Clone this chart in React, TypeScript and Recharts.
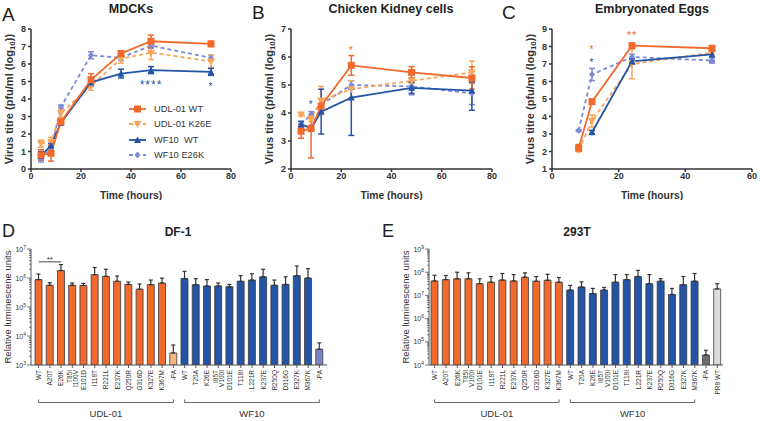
import React from 'react';
import {
  LineChart, Line, XAxis, YAxis, ErrorBar, ReferenceDot, ReferenceLine, Legend,
  BarChart, Bar, Cell,
} from 'recharts';

const FONT = '"Liberation Sans", Arial, Helvetica, sans-serif';
const INK = '#333333';
const ORANGE = '#f26a2b';
const ORANGE_LT = '#f9a65c';
const BLUE = '#2354a5';
const BLUE_LT = '#7d8ad6';

type Err = number | [number, number] | null;

// ---- A: MDCKs ----
const mdckHours = [4, 8, 12, 24, 36, 48, 72];
const mdckUdlWt = [0.8, 0.9, 2.7, 5.1, 6.6, 7.3, 7.15];
const mdckUdlWtErr: Err[] = [0.3, 0.45, 0.15, 0.35, 0.15, 0.35, 0.15];
const mdckUdlK26E = [1.45, 1.55, 3.2, 4.75, 6.3, 6.65, 6.15];
const mdckUdlK26EErr: Err[] = [0.2, 0.25, 0.25, 0.25, 0.25, 0.4, 0.35];
const mdckWfWt = [0.75, 1.35, 2.65, 4.95, 5.45, 5.65, 5.55];
const mdckWfWtErr: Err[] = [0.25, 0.1, 0.1, 0.2, 0.25, 0.2, 0.2];
const mdckWfE26K = [0.6, 1.15, 3.55, 6.5, 6.35, 7.05, 6.35];
const mdckWfE26KErr: Err[] = [0.2, 0.15, 0.1, 0.2, 0.15, 0.15, 0.15];
const mdckXTicks = [0, 20, 40, 60, 80];
const mdckYTicks = [0, 1, 2, 3, 4, 5, 6, 7, 8];

// ---- B: chicken kidney cells ----
const ckHours = [4, 8, 12, 24, 48, 72];
const ckUdlWt = [3.35, 3.45, 4.25, 5.7, 5.45, 5.25];
const ckUdlWtErr: Err[] = [0.25, [1.05, 0.35], 0.25, 0.35, 0.2, 0.4];
const ckUdlK26E = [3.95, 3.8, 4.45, 4.85, 5.15, 5.45];
const ckUdlK26EErr: Err[] = [0.05, 0.1, 0.5, 0.3, 0.1, 0.4];
const ckWfWt = [3.6, 3.45, 4.05, 4.55, 4.9, 4.8];
const ckWfWtErr: Err[] = [0.1, 0.1, 0.8, [1.35, 0.3], 0.2, [0.7, 0.3]];
const ckWfE26K = [3.6, 3.95, 4.3, 5.0, 4.95, 4.7];
const ckWfE26KErr: Err[] = [0.1, 0.1, 0.2, 0.15, 0.3, 0.4];
const ckXTicks = [0, 20, 40, 60, 80];
const ckYTicks = [2, 3, 4, 5, 6, 7];

// ---- C: embryonated eggs ----
const eggHours = [8, 12, 24, 48];
const eggUdlWt = [2.2, 4.85, 8.05, 7.9];
const eggUdlWtErr: Err[] = [0.2, 0.1, 0.1, 0.1];
const eggUdlK26E = [2.1, 3.75, 7.0, 7.65];
const eggUdlK26EErr: Err[] = [0.1, 0.35, 0.85, 0.1];
const eggWfWt = [null, 3.1, 7.15, 7.55];
const eggWfWtErr: Err[] = [null, 0.1, 0.15, 0.4];
const eggWfE26K = [3.2, 6.4, 7.4, 7.2];
const eggWfE26KErr: Err[] = [0.05, 0.35, 0.15, 0.15];
const eggXTicks = [0, 20, 40, 60];
const eggYTicks = [1, 2, 3, 4, 5, 6, 7, 8, 9];

// ---- D / E: polymerase activity ----
const udlNames = ['WT', 'A20T', 'E26K', 'T85I\nI100V', 'E101D', 'I118T', 'R221L', 'E237K', 'Q250R', 'G316D', 'K327E', 'K367M'];
const udlNames293 = ['WT', 'A20T', 'E26K', 'T85I\nV100I', 'D101E', 'I118T', 'R221L', 'E237K', 'Q250R', 'G316D', 'K327E', 'K367M'];
const wfNames = ['WT', 'T20A', 'K26E', 'I85T\nV100I', 'D101E', 'T118I', 'L221R', 'K237E', 'R250Q', 'D316G', 'E327K', 'M367K'];

const df1Udl = [8.8e5, 5.6e5, 1.8e6, 5.6e5, 5.5e5, 1.3e6, 1.14e6, 7.7e5, 6.0e5, 4.1e5, 5.9e5, 6.7e5];
const df1UdlHi = [1.37e6, 6.9e5, 2.9e6, 6.7e5, 6.5e5, 2.3e6, 2.0e6, 1.17e6, 7.3e5, 6.2e5, 8.5e5, 9.9e5];
const df1Wf = [9.5e5, 5.9e5, 5.3e5, 5.3e5, 5.0e5, 7.7e5, 8.5e5, 1.1e6, 5.6e5, 6.0e5, 1.2e6, 1.0e6];
const df1WfHi = [1.7e6, 9.5e5, 8.8e5, 6.7e5, 6.0e5, 1.2e6, 1.4e6, 2.0e6, 8.5e5, 1.1e6, 2.6e6, 2.1e6];
const df1UdlNoPa = [2.6e3];
const df1UdlNoPaHi = [4.9e3];
const df1WfNoPa = [3.5e3];
const df1WfNoPaHi = [5.8e3];
const df1Decades = [3, 4, 5, 6, 7];

const t293Udl = [4.2e7, 4.8e7, 5.2e7, 5.2e7, 3.2e7, 3.7e7, 4.6e7, 4.2e7, 6.1e7, 4.1e7, 4.5e7, 3.7e7];
const t293UdlHi = [7.4e7, 7.2e7, 1.0e8, 9.4e7, 5.2e7, 6.5e7, 8.8e7, 7.9e7, 9.4e7, 6.5e7, 8.2e7, 5.9e7];
const t293Wf = [1.7e7, 2.3e7, 1.2e7, 1.7e7, 3.7e7, 4.8e7, 6.5e7, 3.2e7, 4.1e7, 1.1e7, 2.9e7, 4.1e7];
const t293WfHi = [2.7e7, 3.8e7, 2.0e7, 2.2e7, 7.9e7, 7.9e7, 1.2e8, 7.9e7, 5.3e7, 2.0e7, 6.5e7, 8.8e7];
const t293NoPa = [2.7e4];
const t293NoPaHi = [4.3e4];
const t293Pr8 = [1.9e7];
const t293Pr8Hi = [3.2e7];
const t293Decades = [4, 5, 6, 7, 8, 9];

// ---------------------------------------------------------------

type Shape = 'square' | 'down' | 'up' | 'diamond';
const SERIES: { key: string; name: string; color: string; dashed: boolean; shape: Shape }[] = [
  { key: 'udlWt', name: 'UDL-01 WT', color: ORANGE, dashed: false, shape: 'square' },
  { key: 'udlK26E', name: 'UDL-01 K26E', color: ORANGE_LT, dashed: true, shape: 'down' },
  { key: 'wfWt', name: 'WF10  WT', color: BLUE, dashed: false, shape: 'up' },
  { key: 'wfE26K', name: 'WF10 E26K', color: BLUE_LT, dashed: true, shape: 'diamond' },
];
const DRAW_ORDER = [3, 1, 2, 0];

function buildRows(hours: number[], cols: [string, (number | null)[], Err[]][]) {
  return hours.map((h, i) => {
    const row: Record<string, any> = { h };
    cols.forEach(([key, vals, errs]) => {
      row[key] = vals[i];
      row[key + 'Err'] = errs[i];
    });
    return row;
  });
}

const mdckRows = buildRows(mdckHours, [
  ['udlWt', mdckUdlWt, mdckUdlWtErr], ['udlK26E', mdckUdlK26E, mdckUdlK26EErr],
  ['wfWt', mdckWfWt, mdckWfWtErr], ['wfE26K', mdckWfE26K, mdckWfE26KErr],
]);
const ckRows = buildRows(ckHours, [
  ['udlWt', ckUdlWt, ckUdlWtErr], ['udlK26E', ckUdlK26E, ckUdlK26EErr],
  ['wfWt', ckWfWt, ckWfWtErr], ['wfE26K', ckWfE26K, ckWfE26KErr],
]);
const eggRows = buildRows(eggHours, [
  ['udlWt', eggUdlWt, eggUdlWtErr], ['udlK26E', eggUdlK26E, eggUdlK26EErr],
  ['wfWt', eggWfWt, eggWfWtErr], ['wfE26K', eggWfE26K, eggWfE26KErr],
]);

function Marker({ cx, cy, shape, color }: { cx: number; cy: number; shape: Shape; color: string }) {
  if (cx == null || cy == null || isNaN(cx) || isNaN(cy)) return <g />;
  if (shape === 'square') return <rect x={cx - 3.5} y={cy - 3.5} width={7} height={7} fill={color} />;
  if (shape === 'down') return <polygon points={`${cx - 4},${cy - 3} ${cx + 4},${cy - 3} ${cx},${cy + 4}`} fill={color} />;
  if (shape === 'up') return <polygon points={`${cx - 3.5},${cy + 3} ${cx + 3.5},${cy + 3} ${cx},${cy - 3.5}`} fill={color} />;
  return <polygon points={`${cx},${cy - 3.5} ${cx + 3},${cy} ${cx},${cy + 3.5} ${cx - 3},${cy}`} fill={color} />;
}

const AXIS_TICK = { fill: INK, fontSize: 9, fontWeight: 700, fontFamily: FONT };

const titreYLabel = (props: any) => {
  const vb = props.viewBox;
  const cx = vb.x + 9;
  const cy = vb.y + vb.height / 2;
  return (
    <text x={cx} y={cy} transform={`rotate(-90 ${cx} ${cy})`} textAnchor="middle" dominantBaseline="central"
      fontFamily={FONT} fontWeight={700} fontSize={11} fill={INK}>
      Virus titre (pfu/ml (log<tspan fontSize={8} dy={2.5}>10</tspan><tspan dy={-2.5}>))</tspan>
    </text>
  );
};

const titreLegend = () => (
  <div style={{ fontFamily: FONT, fontSize: 9.3, color: INK }}>
    {SERIES.map((s) => (
      <div key={s.key} style={{ display: 'flex', alignItems: 'center', height: 15.5 }}>
        <svg width={20} height={10}>
          <line x1={1} x2={18} y1={5} y2={5} stroke={s.color} strokeWidth={1.8} strokeDasharray={s.dashed ? '4 3' : undefined} />
          <Marker cx={9.5} cy={5} shape={s.shape} color={s.color} />
        </svg>
        <span style={{ marginLeft: 6, whiteSpace: 'pre' }}>{s.name}</span>
      </div>
    ))}
  </div>
);

type Star = { x: number; y: number; text: string; color: string; size: number };

function TitrePanel({ left, width, plotWidth, rows, xDomain, xTicks, yDomain, yTicks, stars, legend }: any) {
  return (
    <div style={{ position: 'absolute', left, top: 0 }}>
      <LineChart width={width} height={200} data={rows}
        margin={{ top: 29, right: width - 31 - plotWidth, bottom: 0, left: 0 }}>
        <XAxis dataKey="h" type="number" domain={xDomain} ticks={xTicks} allowDataOverflow height={31}
          tick={AXIS_TICK} tickSize={3} tickMargin={1}
          axisLine={{ stroke: INK, strokeWidth: 1.5 }} tickLine={{ stroke: INK, strokeWidth: 1.5 }}
          label={{ value: 'Time (hours)', position: 'insideBottom', offset: 1, fill: INK, fontSize: 10.3, fontWeight: 700, fontFamily: FONT }} />
        <YAxis type="number" domain={yDomain} ticks={yTicks} allowDataOverflow width={31}
          tick={AXIS_TICK} tickSize={3} tickMargin={2}
          axisLine={{ stroke: INK, strokeWidth: 1.5 }} tickLine={{ stroke: INK, strokeWidth: 1.5 }}
          label={titreYLabel} />
        {DRAW_ORDER.map((i) => {
          const s = SERIES[i];
          return (
            <Line key={s.key} type="linear" dataKey={s.key} name={s.name} stroke={s.color} strokeWidth={1.8}
              strokeDasharray={s.dashed ? '4 3' : undefined} isAnimationActive={false} activeDot={false}
              dot={(p: any) => <Marker key={`${s.key}-${p.index}`} cx={p.cx} cy={p.cy} shape={s.shape} color={s.color} />}>
              <ErrorBar dataKey={s.key + 'Err'} width={3} stroke={s.color} strokeWidth={1.5} direction="y" />
            </Line>
          );
        })}
        {(stars as Star[]).map((st, i) => (
          <ReferenceDot key={i} x={st.x} y={st.y} r={0} ifOverflow="visible"
            label={{ value: st.text, position: 'center', fill: st.color, fontSize: st.size, fontFamily: FONT, letterSpacing: 1 }} />
        ))}
        {legend && (
          <Legend layout="vertical" align="center" verticalAlign="middle" content={titreLegend}
            wrapperStyle={{ left: 128, top: 101, width: 110, height: 64 }} />
        )}
      </LineChart>
    </div>
  );
}

// ---- bar panels ----
type LuxRow = { id: string; label: string; value: number; err: [number, number]; fill: string; group: string };

function luxGroup(prefix: string, names: string[], values: number[], highs: number[], fill: string, group: string): LuxRow[] {
  return names.map((n, i) => ({
    id: `${prefix}-${i}`, label: n, value: values[i], err: [0, highs[i] - values[i]], fill, group,
  }));
}

const df1Rows: LuxRow[] = [
  ...luxGroup('udl', udlNames, df1Udl, df1UdlHi, ORANGE, 'UDL-01'),
  ...luxGroup('udlpa', ['-PA'], df1UdlNoPa, df1UdlNoPaHi, '#f9b884', 'UDL-01'),
  ...luxGroup('wf', wfNames, df1Wf, df1WfHi, BLUE, 'WF10'),
  ...luxGroup('wfpa', ['-PA'], df1WfNoPa, df1WfNoPaHi, '#7d84c9', 'WF10'),
];

const t293Rows: LuxRow[] = [
  ...luxGroup('udl', udlNames293, t293Udl, t293UdlHi, ORANGE, 'UDL-01'),
  ...luxGroup('wf', wfNames, t293Wf, t293WfHi, BLUE, 'WF10'),
  ...luxGroup('pa', ['-PA'], t293NoPa, t293NoPaHi, '#6d6e71', ''),
  ...luxGroup('pr8', ['PR8 WT'], t293Pr8, t293Pr8Hi, '#dcdcdc', ''),
];

function logTicks(decades: number[]) {
  const out: number[] = [];
  decades.forEach((d, i) => {
    if (i === decades.length - 1) { out.push(10 ** d); return; }
    for (let k = 1; k < 10; k++) out.push(k * 10 ** d);
  });
  return out;
}

const LogTick = (props: any) => {
  const { x, y, payload } = props;
  const exp = Math.log10(payload.value);
  const major = Math.abs(exp - Math.round(exp)) < 1e-6;
  return (
    <g>
      <line x1={x - (major ? 4 : 2)} x2={x} y1={y} y2={y} stroke="#555" strokeWidth={0.8} />
      {major && (
        <text x={x - 5} y={y + 2.5} textAnchor="end" fontFamily={FONT} fontSize={7} fill={INK}>
          10<tspan dy={-3} fontSize={5}>{Math.round(exp)}</tspan>
        </text>
      )}
    </g>
  );
};

const luxYLabel = (props: any) => {
  const vb = props.viewBox;
  const cx = vb.x + 7;
  const cy = vb.y + vb.height / 2;
  return (
    <text x={cx} y={cy} transform={`rotate(-90 ${cx} ${cy})`} textAnchor="middle" dominantBaseline="central"
      fontFamily={FONT} fontSize={9.5} fill={INK}>Relative luminescene units</text>
  );
};

function CategoryTick({ x, y, payload, rows, band }: any) {
  const list = rows as LuxRow[];
  const row = list.find((r) => r.id === payload.value);
  if (!row) return <g />;
  const lines = row.label.split('\n');
  const members = row.group ? list.filter((r) => r.group === row.group) : [];
  const first = members.length > 0 && members[0].id === row.id;
  const last = members.length > 0 && members[members.length - 1].id === row.id;
  const by = y + 32.5;
  return (
    <g>
      <text transform={`translate(${x},${y}) rotate(-90)`} textAnchor="end" fontFamily={FONT} fontSize={6.5} fill={INK}>
        {lines.map((l: string, i: number) => (
          <tspan key={i} x={0} y={(i - (lines.length - 1) / 2) * 6.2 + 2.3}>{l}</tspan>
        ))}
      </text>
      {row.group && (
        <line x1={first ? x : x - band / 2} x2={last ? x : x + band / 2} y1={by} y2={by} stroke="#666" strokeWidth={1} />
      )}
      {first && <line x1={x} x2={x} y1={by} y2={by - 3} stroke="#666" strokeWidth={1} />}
      {last && <line x1={x} x2={x} y1={by} y2={by - 3} stroke="#666" strokeWidth={1} />}
      {first && (
        <text x={x + ((members.length - 1) / 2) * band} y={by + 14} textAnchor="middle" fontFamily={FONT} fontSize={9.5} fill={INK}>
          {row.group}
        </text>
      )}
    </g>
  );
}

function LuxPanel({ left, width, plotWidth, rows, decades, band, padding, children }: any) {
  const ticks = logTicks(decades);
  return (
    <div style={{ position: 'absolute', left, top: 200 }}>
      <BarChart width={width} height={221} data={rows} barSize={7}
        margin={{ top: 49, right: width - 31 - plotWidth, bottom: 0, left: 0 }}>
        <XAxis dataKey="id" type="category" interval={0} height={56} padding={padding}
          tick={(p: any) => <CategoryTick {...p} rows={rows} band={band} />}
          tickSize={3} tickMargin={2} axisLine={{ stroke: '#555', strokeWidth: 1 }} tickLine={{ stroke: '#555' }} />
        <YAxis type="number" scale="log" domain={[10 ** decades[0], 10 ** decades[decades.length - 1]]}
          allowDataOverflow ticks={ticks} interval={0} width={31} tickSize={0} tickMargin={0} tick={LogTick}
          axisLine={{ stroke: '#555', strokeWidth: 1 }} label={luxYLabel} />
        <Bar dataKey="value" isAnimationActive={false} stroke="#3a3a3a" strokeWidth={0.8}>
          {(rows as LuxRow[]).map((r) => <Cell key={r.id} fill={r.fill} />)}
          <ErrorBar dataKey="err" width={2} stroke="#333" strokeWidth={1.2} direction="y" />
        </Bar>
        {children}
      </BarChart>
    </div>
  );
}

const mdckStars: Star[] = [
  { x: 48, y: 4.83, text: '****', color: BLUE, size: 12 },
  { x: 72, y: 4.7, text: '*', color: BLUE, size: 10 },
];
const ckStars: Star[] = [
  { x: 8, y: 4.32, text: '*', color: BLUE, size: 10 },
  { x: 24, y: 6.24, text: '*', color: ORANGE, size: 10 },
];
const eggStars: Star[] = [
  { x: 12, y: 7.86, text: '*', color: ORANGE, size: 10 },
  { x: 12, y: 7.11, text: '*', color: BLUE, size: 10 },
  { x: 24, y: 8.63, text: '**', color: ORANGE, size: 11 },
];

const txt = { fontFamily: FONT, fill: '#222' };

export default function App() {
  return (
    <div style={{ position: 'absolute', left: 0, top: 0, width: 760, height: 421, background: '#fff', overflow: 'hidden' }}>
      <TitrePanel left={0} width={245} plotWidth={200} rows={mdckRows} xDomain={[0, 80]} xTicks={mdckXTicks}
        yDomain={[0, 8]} yTicks={mdckYTicks} stars={mdckStars} legend />
      <TitrePanel left={260} width={246} plotWidth={201} rows={ckRows} xDomain={[0, 80]} xTicks={ckXTicks}
        yDomain={[2, 7]} yTicks={ckYTicks} stars={ckStars} />
      <TitrePanel left={521} width={239} plotWidth={200} rows={eggRows} xDomain={[0, 60]} xTicks={eggXTicks}
        yDomain={[1, 9]} yTicks={eggYTicks} stars={eggStars} />

      <LuxPanel left={0} width={335} plotWidth={296} rows={df1Rows} decades={df1Decades} band={11.23} padding={{ left: 2, right: 2 }}>
        <ReferenceLine segment={[{ x: 'udl-0', y: 3.6e6 }, { x: 'udl-2', y: 3.6e6 }]} stroke="#444" strokeWidth={1} ifOverflow="visible" />
        <ReferenceDot x="udl-1" y={4.6e6} r={0} ifOverflow="visible"
          label={{ value: '**', position: 'center', fill: INK, fontSize: 8, fontFamily: FONT }} />
      </LuxPanel>
      <LuxPanel left={398} width={335} plotWidth={294} rows={t293Rows} decades={t293Decades} band={11.31} padding={{ left: 0, right: 0 }} />

      <svg width={760} height={421} style={{ position: 'absolute', left: 0, top: 0, pointerEvents: 'none' }}>
        <text x={2} y={21} fontSize={19} {...txt}>A</text>
        <text x={252} y={19} fontSize={19} {...txt}>B</text>
        <text x={502} y={19} fontSize={19} {...txt}>C</text>
        <text x={2} y={237} fontSize={18} {...txt}>D</text>
        <text x={382} y={237} fontSize={18} {...txt}>E</text>
        <text x={131} y={13} fontSize={12.5} fontWeight={700} textAnchor="middle" {...txt}>MDCKs</text>
        <text x={391} y={13} fontSize={12.5} fontWeight={700} textAnchor="middle" {...txt}>Chicken Kidney cells</text>
        <text x={652} y={13} fontSize={12.5} fontWeight={700} textAnchor="middle" {...txt}>Embryonated Eggs</text>
        <text x={178} y={236} fontSize={12} fontWeight={700} textAnchor="middle" {...txt}>DF-1</text>
        <text x={577} y={236} fontSize={12} fontWeight={700} textAnchor="middle" {...txt}>293T</text>
      </svg>
    </div>
  );
}
